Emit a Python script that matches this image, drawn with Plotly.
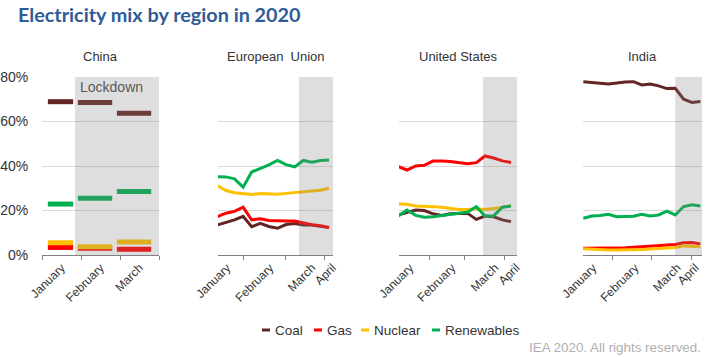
import plotly.graph_objects as go

# ---------------- data ----------------
series_names = ["Coal", "Gas", "Nuclear", "Renewables"]

china_months = ["January", "February", "March"]
china_coal = [68.9, 68.5, 63.7]
china_gas = [3.4, 3.0, 2.6]
china_nuclear = [5.5, 3.7, 5.8]
china_renewables = [22.9, 25.5, 28.5]

month_labels = ["January", "February", "March", "April"]

eu_coal = [13.5, 14.7, 15.8, 17.4, 12.7, 14.2, 12.8, 12.0, 13.7, 14.2, 13.5, 13.5, 13.0, 12.3]
eu_gas = [17.2, 18.8, 19.6, 21.5, 15.8, 16.3, 15.5, 15.3, 15.3, 15.3, 14.3, 13.6, 13.2, 12.4]
eu_nuclear = [31.2, 29.0, 28.0, 27.7, 27.2, 27.6, 27.6, 27.3, 27.7, 28.0, 28.5, 28.8, 29.1, 30.0]
eu_renewables = [35.2, 35.1, 34.2, 30.5, 37.3, 38.8, 40.5, 42.5, 40.6, 39.6, 42.5, 41.7, 42.5, 42.7]

us_coal = [18.0, 19.0, 20.2, 20.0, 18.5, 17.8, 18.5, 18.7, 18.7, 16.0, 17.5, 17.2, 15.8, 15.0]
us_gas = [39.7, 38.2, 40.0, 40.3, 42.2, 42.3, 42.0, 41.6, 41.0, 41.5, 44.5, 43.6, 42.3, 41.6]
us_nuclear = [22.9, 22.8, 22.0, 21.7, 21.7, 21.5, 21.0, 20.5, 20.5, 20.8, 20.5, 20.8, 21.4, 22.2]
us_renewables = [17.5, 20.2, 17.8, 17.0, 17.2, 17.8, 18.2, 18.8, 19.3, 21.7, 17.5, 17.6, 21.5, 22.0]

india_coal = [77.9, 77.5, 77.3, 76.9, 77.3, 77.8, 77.9, 76.4, 76.8, 76.0, 74.8, 74.9, 70.0, 68.6, 69.0]
india_gas = [3.0, 3.0, 3.0, 3.1, 3.2, 3.3, 3.5, 3.8, 4.0, 4.2, 4.5, 4.7, 5.5, 5.6, 5.0]
india_nuclear = [2.8, 2.5, 2.3, 2.2, 2.2, 2.2, 2.3, 2.5, 2.7, 2.9, 3.1, 3.4, 4.1, 3.8, 3.7]
india_renewables = [16.5, 17.5, 17.8, 18.3, 17.2, 17.2, 17.4, 18.3, 17.5, 18.0, 19.7, 18.0, 21.8, 22.6, 22.0]

y_ticks = [0, 20, 40, 60, 80]
y_ticklabels = ["0%", "20%", "40%", "60%", "80%"]

# ---------------- style ----------------
W, H = 705, 357
COLORS = {"Coal": "#632523", "Gas": "#ff0000", "Nuclear": "#ffc000", "Renewables": "#00b050"}
FONT = "Liberation Sans, Arial, sans-serif"
TXT = "#333333"
SHADE = "rgba(128,128,128,0.26)"


def fx(p):
    return p / W


def fy(p):
    return 1 - p / H


Y_TOP, Y_BOT = 77, 255

panels = [
    dict(title="China", px=(42, 159), rng=[-0.5, 2.5], shade=0.346, tv=[0, 1, 2],
         minor=[-0.5, 0.5, 1.5, 2.5], labels=china_months),
    dict(title="European\u00a0 Union", px=(218, 333), rng=[0.08, 13.46], shade=9.5,
         tv=[1.13, 6.13, 11.02, 13.4], minor=[3.1, 7.88, 12.42], labels=month_labels),
    dict(title="United States", px=(399, 517), rng=[0.08, 13.69], shade=9.77,
         tv=[1.35, 6.2, 11.15, 13.6], minor=[3.54, 7.69, 12.3], labels=month_labels),
    dict(title="India", px=(583, 702), rng=[-0.04, 14.2], shade=11.0,
         tv=[1.16, 6.2, 11.25, 13.4], minor=[3.44, 8.2, 13.0], labels=month_labels),
]

fig = go.Figure()

china_vals = {"Coal": china_coal, "Gas": china_gas, "Nuclear": china_nuclear,
              "Renewables": china_renewables}
for name in series_names:
    xs, ys = [], []
    for i, v in enumerate(china_vals[name]):
        x0 = max(i - 0.58, -0.35)
        x1 = i + 0.3
        xs += [x0, x1, None]
        ys += [v, v, None]
    fig.add_trace(go.Scatter(x=xs, y=ys, mode="lines", line=dict(color=COLORS[name], width=5),
                             xaxis="x", yaxis="y", showlegend=False, hoverinfo="skip"))

line_data = [
    ("x2", "y2", {"Coal": eu_coal, "Gas": eu_gas, "Nuclear": eu_nuclear, "Renewables": eu_renewables}),
    ("x3", "y3", {"Coal": us_coal, "Gas": us_gas, "Nuclear": us_nuclear, "Renewables": us_renewables}),
    ("x4", "y4", {"Coal": india_coal, "Gas": india_gas, "Nuclear": india_nuclear,
                  "Renewables": india_renewables}),
]
for xa, ya, d in line_data:
    for name in series_names:
        vals = d[name]
        fig.add_trace(go.Scatter(x=list(range(len(vals))), y=vals, mode="lines",
                                 line=dict(color=COLORS[name], width=3),
                                 xaxis=xa, yaxis=ya, showlegend=False, hoverinfo="skip"))

layout = dict(
    template="none",
    width=W, height=H, margin=dict(l=0, r=0, t=0, b=0, pad=0, autoexpand=False),
    paper_bgcolor="white", plot_bgcolor="white",
    font=dict(family=FONT, color=TXT, size=12),
    showlegend=False,
)
shapes = []
annotations = []
for k, p in enumerate(panels):
    sfx = "" if k == 0 else str(k + 1)
    xname, yname = "xaxis" + sfx, "yaxis" + sfx
    xref, yref = "x" + sfx, "y" + sfx
    layout[xname] = dict(
        domain=[fx(p["px"][0]), fx(p["px"][1])], range=p["rng"], anchor=yref,
        automargin=False,
        tickmode="array", tickvals=p["tv"], ticktext=p["labels"], tickangle=-45,
        ticks="", showgrid=False, zeroline=False, showline=True, linecolor="#808080",
        linewidth=1, tickfont=dict(size=12, color=TXT, family=FONT),
        minor=dict(tickmode="array", tickvals=p["minor"], ticks="outside", ticklen=4,
                   tickcolor="#808080", tickwidth=1, showgrid=False),
        fixedrange=True,
    )
    layout[yname] = dict(
        domain=[fy(Y_BOT), fy(Y_TOP)], range=[0, 80], anchor=xref,
        automargin=False,
        tickmode="array", tickvals=y_ticks, ticktext=y_ticklabels,
        showticklabels=(k == 0), ticks="outside" if k == 0 else "", ticklen=10,
        tickcolor="rgba(0,0,0,0)",
        showgrid=True, gridcolor="#d9d9d9", gridwidth=1, zeroline=False, showline=False,
        tickfont=dict(size=14, color=TXT, family=FONT), fixedrange=True,
    )
    shapes.append(dict(type="rect", xref=xref, yref=yref, x0=p["shade"], x1=p["rng"][1],
                       y0=0, y1=80, fillcolor=SHADE, line=dict(width=0), layer="above"))
    annotations.append(dict(text=p["title"], xref="paper", yref="paper",
                            x=fx((p["px"][0] + p["px"][1]) / 2), y=fy(57),
                            xanchor="center", yanchor="middle", showarrow=False,
                            font=dict(size=13, color=TXT, family=FONT)))

annotations.append(dict(text="Lockdown", xref="x", yref="y", x=1.28, y=75.5,
                        xanchor="center", yanchor="middle", showarrow=False,
                        font=dict(size=14, color="#595959", family=FONT)))

annotations.append(dict(text="<b>Electricity mix by region in 2020</b>", xref="paper", yref="paper",
                        x=fx(16), y=fy(14), xanchor="left", yanchor="middle", showarrow=False,
                        font=dict(size=19.8, color="#2f5b97", family="Lato, sans-serif")))

leg_x = [262, 314, 361, 432]
for name, x in zip(series_names, leg_x):
    shapes.append(dict(type="line", xref="paper", yref="paper", x0=fx(x), x1=fx(x + 8),
                       y0=fy(330), y1=fy(330), line=dict(color=COLORS[name], width=3)))
    annotations.append(dict(text=name, xref="paper", yref="paper", x=fx(x + 11), y=fy(330),
                            xanchor="left", yanchor="middle", showarrow=False,
                            font=dict(size=13.5, color=TXT, family=FONT)))

annotations.append(dict(text="IEA 2020. All rights reserved.", xref="paper", yref="paper",
                        x=fx(703), y=fy(347), xanchor="right", yanchor="middle", showarrow=False,
                        font=dict(size=13.4, color="#b0b0b0", family=FONT)))

layout["shapes"] = shapes
layout["annotations"] = annotations
fig.update_layout(**layout)
fig.write_html("out.html", config={"displayModeBar": False, "staticPlot": True},
               post_script="document.body.style.margin='0';")
